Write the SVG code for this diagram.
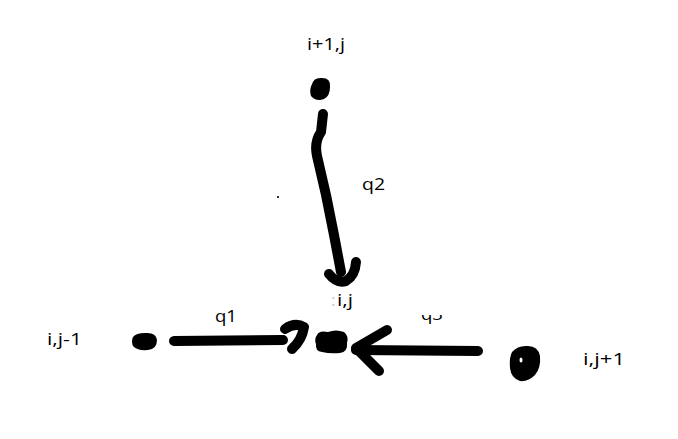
<svg xmlns="http://www.w3.org/2000/svg" width="678" height="439" viewBox="0 0 678 439">
<style>
.lbl{font-family:"Open Sans","Liberation Sans",sans-serif;font-size:17px;fill:#000}
.stroke{fill:none;stroke:#000;stroke-width:10;stroke-linecap:round;stroke-linejoin:round}
.blob{fill:#000}
</style>
<defs>
<clipPath id="q3clip"><rect x="400" y="315" width="60" height="20"/></clipPath>
</defs>
<rect width="678" height="439" fill="#fff"/>
<g id="node-top">
<text class="lbl" x="307" y="50" textLength="38" lengthAdjust="spacingAndGlyphs">i+1,j</text>
<path class="blob" d="M312,84 Q314,77 322,78 Q331,78 330,87 Q330,96 324,99 Q316,102 311,96 Q309,90 312,84 Z"/>
</g>
<g id="node-center">
<text class="lbl" x="331" y="306" font-size="16"><tspan fill="#c8c8c8">:</tspan><tspan x="337" textLength="16" lengthAdjust="spacingAndGlyphs">i,j</tspan></text>
<path class="blob" d="M317,335 Q319,330 328,332 Q336,329 344,332 Q349,336 347,343 Q348,352 340,353 Q330,354 322,352 Q315,351 316,344 Q314,339 317,335 Z"/>
</g>
<g id="node-left">
<text class="lbl" x="47" y="345" textLength="35" lengthAdjust="spacingAndGlyphs">i,j-1</text>
<path class="blob" d="M133,337 Q136,333 145,333 Q156,332 157,340 Q157,349 148,350 Q137,351 133,346 Q131,341 133,337 Z"/>
</g>
<g id="node-right">
<text class="lbl" x="583" y="365" textLength="42" lengthAdjust="spacingAndGlyphs">i,j+1</text>
<path class="blob" d="M512,352 Q518,345 528,346 Q538,346 540,356 Q541,368 535,375 Q528,382 520,381 Q511,378 510,368 Q509,358 512,352 Z"/>
<ellipse cx="521" cy="360" rx="1.5" ry="2.5" fill="#fff"/>
</g>
<g id="connectors">
<path class="stroke" d="M323,114 L321,132 Q314,142 317,156 L326,195 L334,235 L341,272"/>
<path class="stroke" d="M329,274 Q337,284 346,281 Q355,276 356,262"/>
<path class="stroke" d="M174,341 L283,340"/>
<path class="stroke" d="M285,329 Q295,322 304,327 Q302,340 292,349"/>
<path class="stroke" d="M478,351 L356,350"/>
<path class="stroke" d="M387,330 L356,348 L379,371"/>
<text class="lbl" x="362" y="190" font-size="16" textLength="23" lengthAdjust="spacingAndGlyphs">q2</text>
<text class="lbl" x="215" y="322" font-size="16" textLength="22" lengthAdjust="spacingAndGlyphs">q1</text>
<text class="lbl" x="421" y="320" font-size="16" textLength="22" lengthAdjust="spacingAndGlyphs" clip-path="url(#q3clip)">q3</text>
</g>
<rect x="277" y="196" width="2" height="2" fill="#333"/>
</svg>
